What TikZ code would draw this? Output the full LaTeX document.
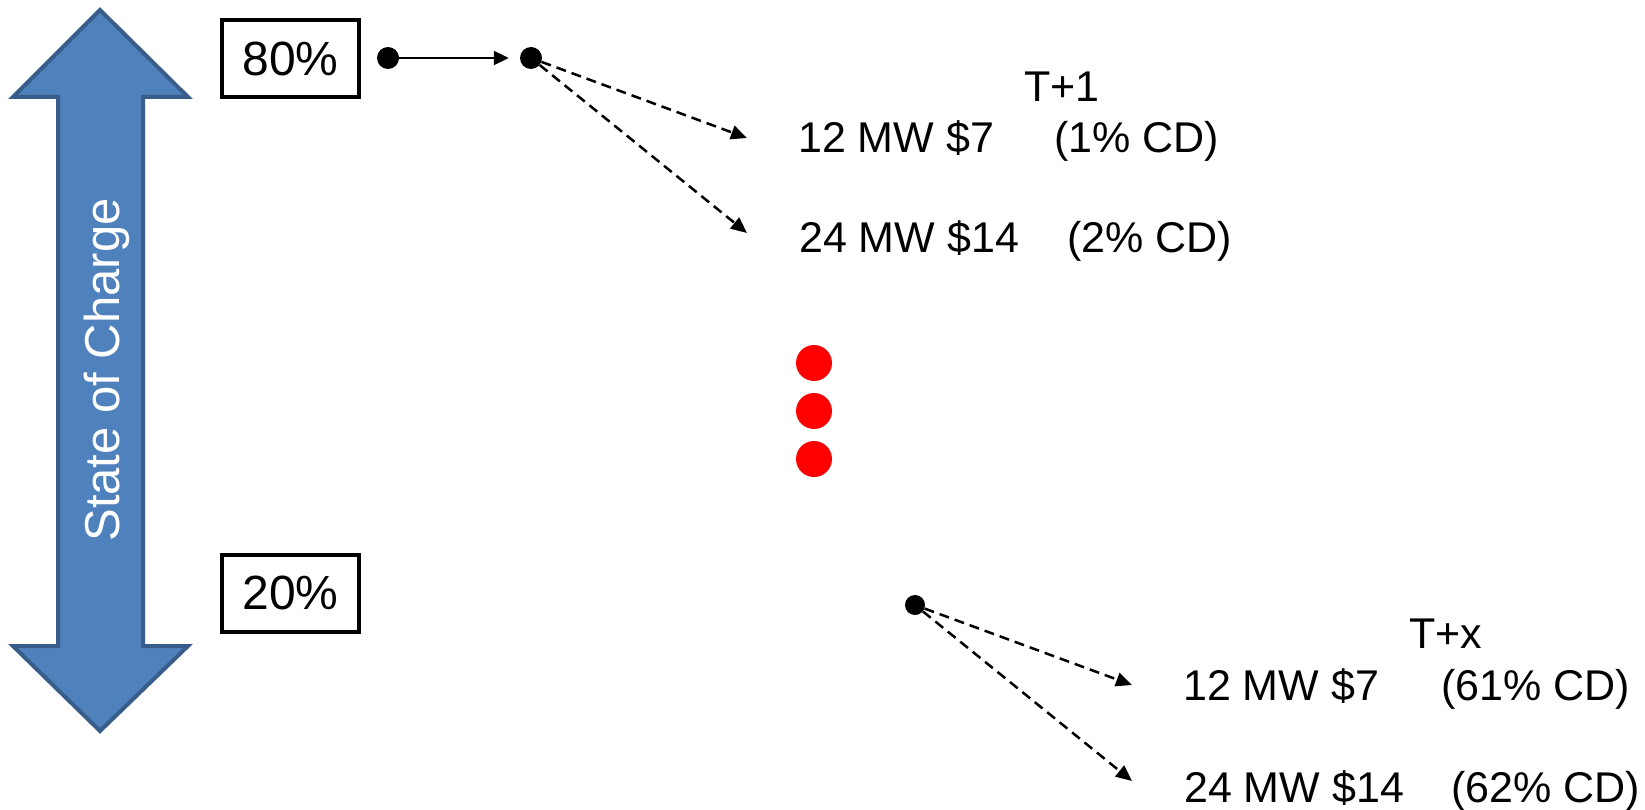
\documentclass[tikz,border=0pt]{standalone}
\usepackage{fontspec}
\setmainfont{Liberation Sans}
\usetikzlibrary{arrows.meta}
\definecolor{sblue}{HTML}{4F81BD}
\definecolor{sedge}{HTML}{385D8A}
\begin{document}
\begin{tikzpicture}[x=1pt,y=-1pt,
  pbox/.style={draw, line width=4pt, minimum width=137pt, minimum height=77pt, inner sep=0pt, font=\fontsize{48pt}{56pt}\selectfont},
  dot/.style={circle, fill=black, inner sep=0pt, minimum size=22pt},
  reddot/.style={circle, fill=red, inner sep=0pt, minimum size=36pt},
  lbl/.style={anchor=base west, inner sep=0pt, font=\fontsize{43pt}{51pt}\selectfont},
  solidarr/.style={line width=2pt, -{Triangle[length=15pt,width=14pt]}},
  dasharr/.style={line width=2.5pt, dash pattern=on 10pt off 6pt, -{Triangle[length=16pt,width=14pt]}}]
\useasboundingbox (0,0) rectangle (1645,810);
% double arrow
\draw[fill=sblue, draw=sedge, line width=4pt, line join=miter]
  (100,10) -- (188,97) -- (143,97) -- (143,646) -- (188,646) -- (100,731)
  -- (13,646) -- (58,646) -- (58,97) -- (13,97) -- cycle;
\node[rotate=90, anchor=base, inner sep=0pt, text=white, font=\fontsize{49pt}{57pt}\selectfont] (soc) at (119,370) {State of Charge};
% boxes
\node[pbox] (b80) at (290.5,58.5) {80\%};
\node[pbox] (b20) at (290.5,593) {20\%};
% dots
\node[dot] (d1) at (388,58) {};
\node[dot] (d2) at (531,58) {};
\node[dot, minimum size=20pt] (d3) at (915,605) {};
\node[reddot] (r1) at (814,363) {};
\node[reddot] (r2) at (814,411) {};
\node[reddot] (r3) at (814,459) {};
% arrow ends
\coordinate (e1) at (747,138);
\coordinate (e2) at (747,233);
\coordinate (e3) at (1132,685);
\coordinate (e4) at (1132,781);
% connectors
\draw[solidarr, shorten >=11pt] (d1) -- (d2);
\draw[dasharr] (d2) -- (e1);
\draw[dasharr] (d2) -- (e2);
\draw[dasharr] (d3) -- (e3);
\draw[dasharr] (d3) -- (e4);
% labels upper
\node[lbl] (t1) at (1024,102) {T+1};
\node[lbl] (u1a) at (798,153) {12 MW \$7};
\node[lbl] (u1b) at (1054,153) {(1\% CD)};
\node[lbl] (u2a) at (799,252) {24 MW \$14};
\node[lbl] (u2b) at (1067,252) {(2\% CD)};
% labels lower
\node[lbl] (tx) at (1409,648) {T+x};
\node[lbl] (l1a) at (1183,700) {12 MW \$7};
\node[lbl] (l1b) at (1441,700) {(61\% CD)};
\node[lbl] (l2a) at (1184,802) {24 MW \$14};
\node[lbl] (l2b) at (1451,802) {(62\% CD)};
\end{tikzpicture}
\end{document}
